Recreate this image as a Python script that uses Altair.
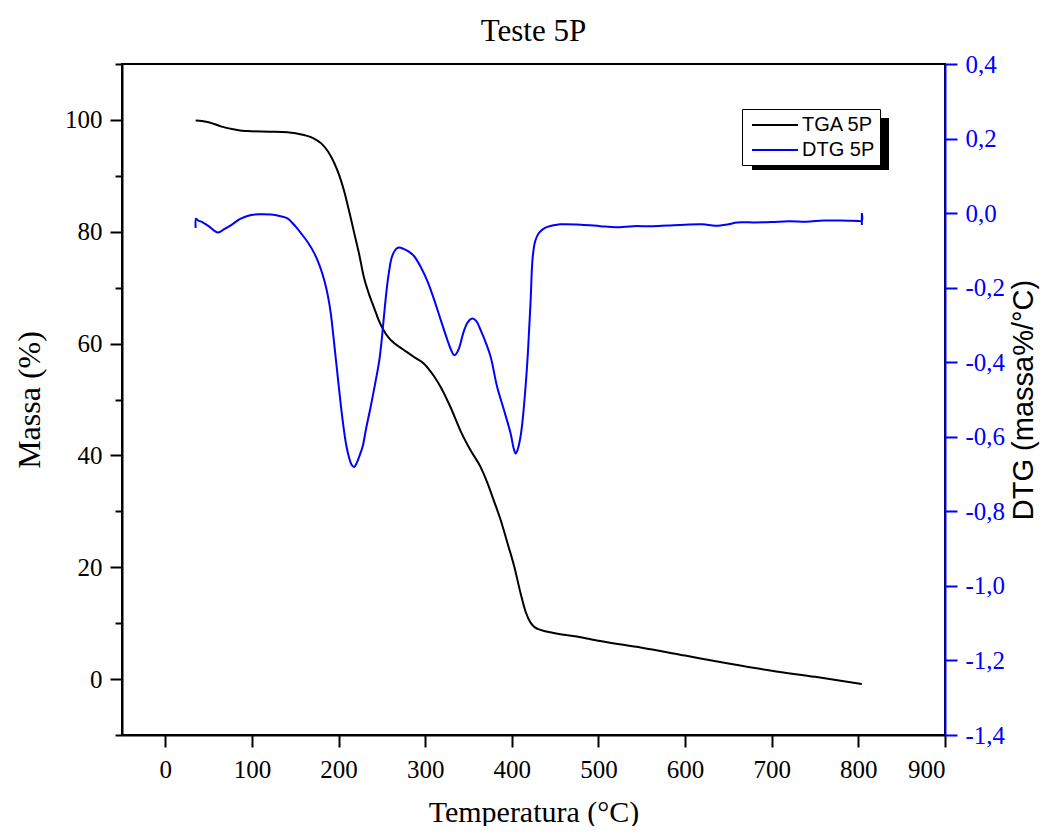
import altair as alt
import pandas as pd

# ---------------- data ----------------
tga_temp = [35, 50, 65, 80, 95, 120, 141, 160, 170, 180, 188, 195, 201, 206, 212,
            218, 224, 229, 235, 241, 246, 252, 258, 264, 275, 287, 298, 310, 318,
            329, 341, 352, 364, 372, 379, 387, 395, 403, 410, 416, 422, 427, 433,
            450, 475, 502, 550, 600, 650, 700, 750, 804]
tga_mass = [99.9, 99.6, 98.8, 98.3, 98.0, 97.9, 97.8, 97.3, 96.8, 95.8, 94.3, 92.3,
            90.0, 87.5, 83.8, 79.8, 75.8, 72.0, 68.9, 66.4, 64.3, 62.4, 61.0, 60.1,
            58.9, 57.6, 56.5, 54.2, 52.2, 48.7, 44.3, 41.0, 37.9, 35.0, 32.0, 28.5,
            24.3, 20.0, 15.4, 12.0, 10.0, 9.2, 8.8, 8.2, 7.6, 6.8, 5.6, 4.2, 2.8,
            1.5, 0.4, -0.9]

dtg_temp = [35, 35.5, 38, 41.5, 50, 60.7, 68, 76, 87, 99, 110, 122, 132, 141, 150,
            157, 165, 172, 178, 183.5, 187.5, 191, 194, 197, 200, 202.8, 205.5,
            208.5, 212, 215, 218, 221, 224, 227.7, 232, 237, 242, 247, 250, 252.7,
            255.5, 258.5, 261, 264, 267, 270, 275, 281.5, 287, 295, 303, 310, 318,
            325.7, 330, 333.3, 336, 339, 342, 345, 349, 354.5, 359, 364, 370,
            375.6, 383, 391, 398.6, 402, 404.4, 407, 410, 412, 415, 418, 420,
            421.7, 424, 427, 431, 436, 441, 450, 456, 480, 502, 520, 540, 560,
            580, 600, 620, 635, 650, 660, 680, 700, 720, 740, 760, 780, 800, 804,
            804, 804]
dtg_val = [-0.04, -0.015, -0.02, -0.023, -0.035, -0.052, -0.043, -0.032, -0.015,
           -0.005, -0.003, -0.004, -0.008, -0.014, -0.035, -0.055, -0.08, -0.108,
           -0.14, -0.18, -0.22, -0.269, -0.33, -0.395, -0.46, -0.52, -0.57,
           -0.618, -0.655, -0.675, -0.681, -0.67, -0.652, -0.627, -0.575, -0.52,
           -0.46, -0.395, -0.335, -0.269, -0.205, -0.153, -0.122, -0.104, -0.095,
           -0.092, -0.096, -0.104, -0.115, -0.145, -0.185, -0.23, -0.287, -0.341,
           -0.368, -0.381, -0.377, -0.363, -0.338, -0.314, -0.293, -0.283, -0.29,
           -0.314, -0.348, -0.386, -0.466, -0.529, -0.591, -0.63, -0.645, -0.632,
           -0.6, -0.565, -0.49, -0.395, -0.31, -0.234, -0.12, -0.075, -0.054,
           -0.043, -0.037, -0.032, -0.030, -0.031, -0.035, -0.038, -0.035, -0.035,
           -0.033, -0.031, -0.030, -0.034, -0.030, -0.025, -0.025, -0.024, -0.022,
           -0.023, -0.020, -0.020, -0.021, -0.021, 0.0, -0.032]

series_names = ["TGA 5P", "DTG 5P"]
series_colors = ["#000000", "#0000ff"]
x_ticks = list(range(0, 1000, 100))
left_ticks = list(range(-10, 120, 10))
right_ticks = [-1.4, -1.2, -1.0, -0.8, -0.6, -0.4, -0.2, 0.0, 0.2, 0.4]

tga_df = pd.DataFrame({"T": tga_temp, "v": tga_mass, "s": series_names[0],
                       "i": list(range(len(tga_temp)))})
dtg_df = pd.DataFrame({"T": dtg_temp, "v": dtg_val, "s": series_names[1],
                       "i": list(range(len(dtg_temp)))})

SERIF = "Liberation Serif"
SANS = "Liberation Sans"
BLUE = "#0000ff"

x_enc = alt.X(
    "T:Q",
    scale=alt.Scale(domain=[-50, 900], nice=False, zero=False),
    axis=alt.Axis(
        values=x_ticks, title="Temperatura (°C)", grid=False,
        domainColor="black", domainWidth=2, tickColor="black", tickWidth=2,
        tickSize=12, labelFont=SERIF, labelFontSize=25, labelColor="black",
        labelPadding=10, titleFont=SERIF, titleFontSize=30,
        titleFontWeight="normal", titleColor="black", titlePadding=15,
    ),
)

color_enc = alt.Color(
    "s:N",
    scale=alt.Scale(domain=series_names, range=series_colors),
    legend=alt.Legend(
        title=None, orient="none", legendX=620, legendY=45,
        fillColor="white", strokeColor="black", padding=5,
        symbolType="M-2.3,0H2.3", symbolSize=400, symbolStrokeWidth=2,
        symbolOffset=17, labelFont=SANS, labelFontSize=20,
        labelColor="black", labelOffset=16, rowPadding=4,
    ),
)

tga = alt.Chart(tga_df).mark_line(strokeWidth=2, interpolate="monotone").encode(
    x=x_enc,
    y=alt.Y(
        "v:Q",
        scale=alt.Scale(domain=[-10, 110], nice=False, zero=False),
        axis=alt.Axis(
            orient="left", values=left_ticks, title="Massa (%)", grid=False,
            labelExpr="datum.value % 20 === 0 ? datum.value : ''",
            domainColor="black", domainWidth=2, tickColor="black", tickWidth=2,
            tickSize={"condition": {"test": "datum.value % 20 === 0", "value": 12},
                      "value": 7},
            labelFont=SERIF, labelFontSize=25, labelColor="black",
            labelPadding=8, titleFont=SERIF, titleFontSize=32,
            titleFontWeight="normal", titleColor="black", titlePadding=18,
        ),
    ),
    color=color_enc,
    order="i:Q",
)

dtg = alt.Chart(dtg_df).mark_line(strokeWidth=2, interpolate="catmull-rom").encode(
    x=x_enc,
    y=alt.Y(
        "v:Q",
        scale=alt.Scale(domain=[-1.4, 0.4], nice=False, zero=False),
        axis=alt.Axis(
            orient="right", values=right_ticks, title="DTG (massa%/°C)",
            grid=False,
            labelExpr="replace(replace(format(datum.value, '.1f'), '.', ','), '\u2212', '-')",
            domainColor=BLUE, domainWidth=2, tickColor=BLUE, tickWidth=2,
            tickSize=12, labelFont=SERIF, labelFontSize=25, labelColor=BLUE,
            labelPadding=8, titleFont=SANS, titleFontSize=29,
            titleFontWeight="normal", titleColor="black", titlePadding=34,
            titleAngle=270,
        ),
    ),
    color=color_enc,
    order="i:Q",
)

shadow = alt.Chart(alt.Data(values=[{"a": 1}])).mark_rect(color="black").encode(
    x=alt.value(630), x2=alt.value(767), y=alt.value(54), y2=alt.value(106)
)

chart = (
    alt.layer(tga, dtg, shadow)
    .resolve_scale(y="independent")
    .properties(
        width=823, height=671,
        autosize=alt.AutoSizeParams(type="none"),
        padding={"left": 114, "top": 56, "right": 97, "bottom": 91},
        title=alt.TitleParams("Teste 5P", font=SERIF, fontSize=31,
                              fontWeight="normal", color="black",
                              anchor="middle", offset=4),
    )
    .configure_view(stroke="black", strokeWidth=2)
)

chart.save("out.html", embed_options={"renderer": "svg", "actions": False})
